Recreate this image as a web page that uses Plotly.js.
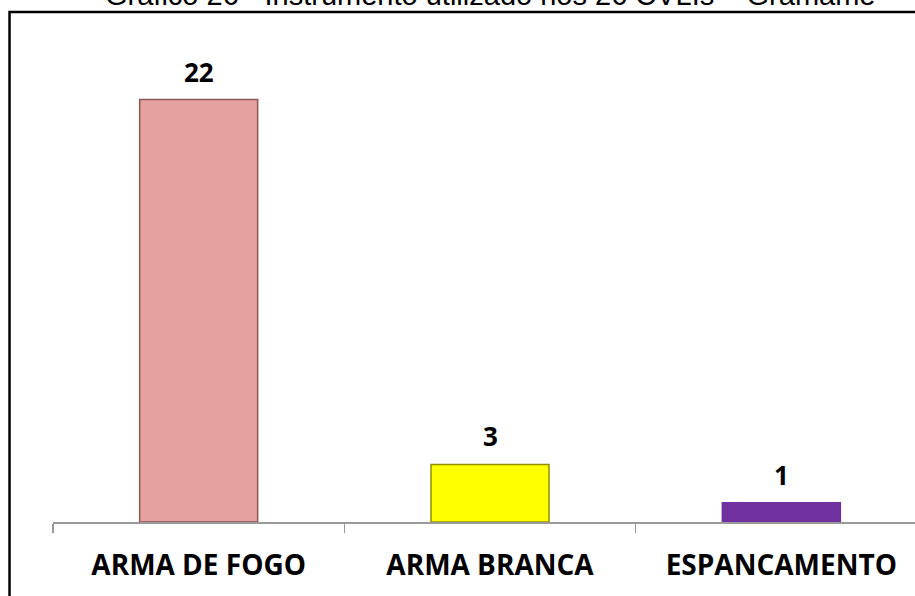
<!DOCTYPE html>
<html><head><meta charset="utf-8">
<script src="https://cdn.plot.ly/plotly-3.0.1.min.js"></script>
<style>html,body{margin:0;padding:0;overflow:hidden;background:#fff}#chart{width:935px;height:596px}</style>
</head><body><div id="chart"></div>
<script>
const categories = ["ARMA DE FOGO", "ARMA BRANCA", "ESPANCAMENTO"];
const values = [22, 3, 1];
const barColors = ["#E6A09F", "#FFFF00", "#7030A0"];
const barEdges = ["#8A5656", "#8F8F00", "#7030A0"];
const titleText = "Gráfico 26 - Instrumento utilizado nos 26 CVLIs – Gramame";

const W = 935, H = 596, L = 53, R = 7.5, T = 42, B = 74;
const pw = W - L - R, ph = H - T - B;
const px = v => (v - L) / pw;
const py = v => (H - B - v) / ph;

const trace = {
  type: "bar", x: categories, y: values, width: 0.405,
  marker: {color: barColors, line: {color: barEdges, width: 1.5}},
  hoverinfo: "none"
};
const annotations = categories.map((c, i) => ({
  x: c, y: values[i], xref: "x", yref: "y", text: String(values[i]),
  showarrow: false, yanchor: "bottom", yshift: 8,
  font: {family: "'Open Sans', sans-serif", size: 26, color: "#000", weight: 700}
}));
annotations.push({
  text: titleText, xref: "paper", yref: "paper", x: px(490), y: py(-5),
  xanchor: "center", yanchor: "middle", showarrow: false,
  font: {family: "Liberation Sans, Arial, sans-serif", size: 29, color: "#000"}
});
const layout = {
  width: W, height: H,
  margin: {l: L, r: R, t: T, b: B},
  paper_bgcolor: "#fff", plot_bgcolor: "#fff",
  showlegend: false,
  xaxis: {range: [-0.5, 2.5], showline: true, linecolor: "#9A9A9A", linewidth: 2,
          ticks: "outside", tickson: "boundaries", ticklen: 9, tickcolor: "#9A9A9A", tickwidth: 1.5,
          showgrid: false, zeroline: false, ticklabelstandoff: 17,
          tickfont: {family: "'Open Sans', sans-serif", size: 28, color: "#000", weight: 700}},
  yaxis: {range: [0, 25], visible: false, showgrid: false, zeroline: false},
  annotations: annotations,
  shapes: [{type: "rect", xref: "paper", yref: "paper", x0: px(9.5), x1: px(W + 20), y0: py(H + 20), y1: py(12),
            line: {color: "#000", width: 2.5}, fillcolor: "rgba(0,0,0,0)", layer: "above"}]
};
Plotly.newPlot("chart", [trace], layout, {staticPlot: true, displayModeBar: false});
</script></body></html>
